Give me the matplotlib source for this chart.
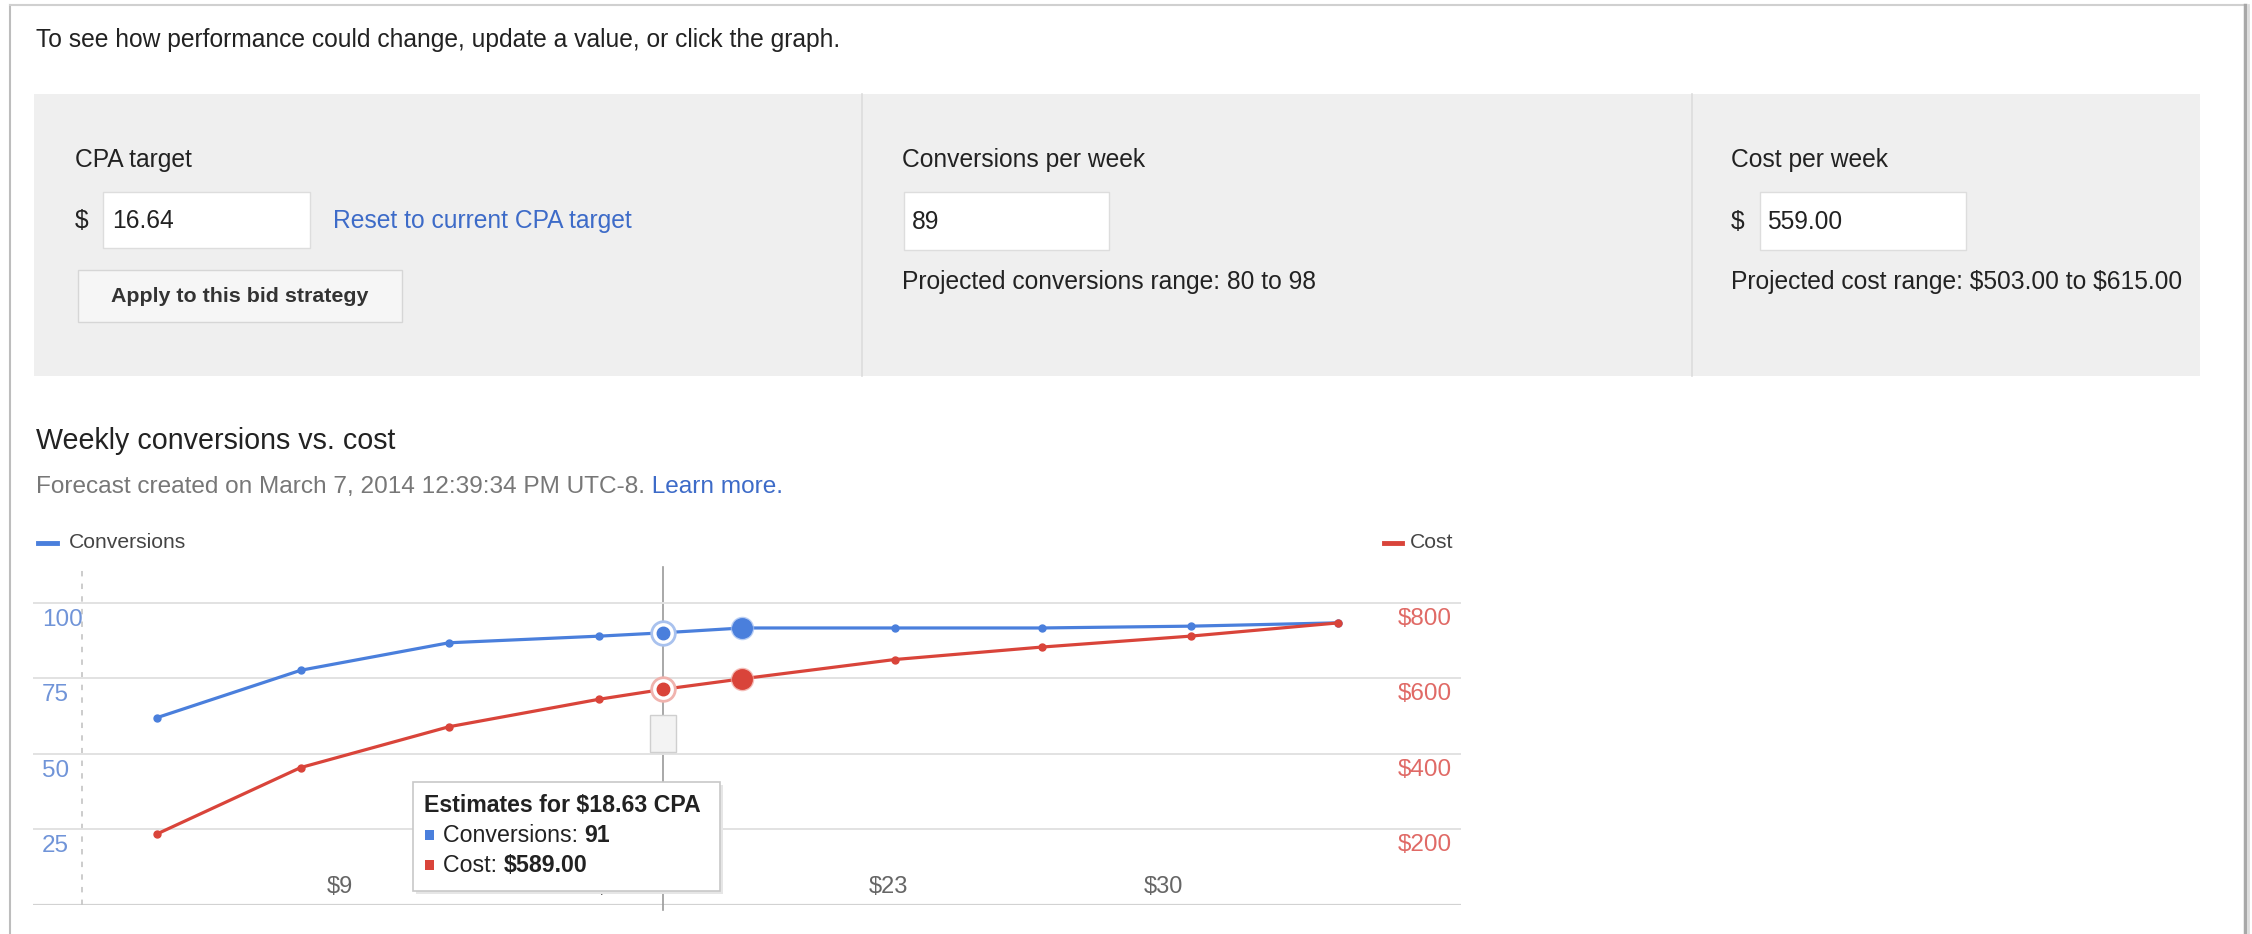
import matplotlib
matplotlib.use('Agg')
import matplotlib.pyplot as plt
from matplotlib.patches import Rectangle
from matplotlib.lines import Line2D
import matplotlib.transforms as mtransforms

# ---------------- data ----------------
cpa = [4.33, 8.0, 11.78, 15.62, 17.24, 19.26, 23.15, 26.9, 30.7, 34.46]
conversions = [62.0, 77.7, 86.8, 89.0, 90.1, 91.7, 91.7, 91.7, 92.3, 93.4]
cost = [188, 364, 472, 545, 571, 599, 650, 683, 712, 747]
hover_idx = 4
current_idx = 5
baseline_cpa = 2.42

x_ticks = [9, 16, 23, 30]
x_tick_labels = ['$9', '$16', '$23', '$30']
conv_ticks = [25, 50, 75, 100]
conv_tick_labels = ['25', '50', '75', '100']
cost_ticks = [200, 400, 600, 800]
cost_tick_labels = ['$200', '$400', '$600', '$800']

x_range = (1.17, 37.6)
conv_range = (0, 114.2)
cost_scale = 8

intro_text = 'To see how performance could change, update a value, or click the graph.'
cpa_label, cpa_value, reset_link, apply_btn = 'CPA target', '16.64', 'Reset to current CPA target', 'Apply to this bid strategy'
conv_label, conv_value, conv_range_text = 'Conversions per week', '89', 'Projected conversions range: 80 to 98'
cost_label, cost_value, cost_range_text = 'Cost per week', '559.00', 'Projected cost range: $503.00 to $615.00'
chart_title = 'Weekly conversions vs. cost'
forecast_text = 'Forecast created on March 7, 2014 12:39:34 PM UTC-8.'
learn_more = ' Learn more.'
tooltip_title = 'Estimates for $18.63 CPA'
tooltip_conv = ('Conversions: ', '91')
tooltip_cost = ('Cost: ', '$589.00')

# ---------------- style ----------------
W, H, DPI = 2252, 934, 100
FONT = ['Liberation Sans', 'DejaVu Sans']
plt.rcParams['font.family'] = FONT
plt.rcParams['text.parse_math'] = False
BLUE = '#4a7fdc'
RED = '#d9443a'
TXT = '#222222'
LINK = '#3d6bc8'
PANEL = '#efefef'
FS = 17.7        # body text
FS_AX = 17.5     # axis labels

fig = plt.figure(figsize=(W / DPI, H / DPI), dpi=DPI)
fig.patch.set_facecolor('white')


def fx(x):
    return x / W


def fy(y):
    return 1 - y / H


def rect(x0, y0, x1, y1, fc, ec='none', lw=1.0, z=1):
    r = Rectangle((fx(x0), fy(y1)), (x1 - x0) / W, (y1 - y0) / H, transform=fig.transFigure,
                  facecolor=fc, edgecolor=ec, linewidth=lw, zorder=z)
    fig.add_artist(r)
    return r


def hline(x0, x1, y, color, lw, z=2):
    fig.add_artist(Line2D([fx(x0), fx(x1)], [fy(y), fy(y)], transform=fig.transFigure, color=color, lw=lw, zorder=z))


def vline(x, y0, y1, color, lw, z=2, ls='-'):
    fig.add_artist(Line2D([fx(x), fx(x)], [fy(y0), fy(y1)], transform=fig.transFigure, color=color, lw=lw, zorder=z, ls=ls))


def txt(x, y, s, size=FS, color=TXT, weight='normal', ha='left', z=5):
    return fig.text(fx(x), fy(y), s, fontsize=size, color=color, fontweight=weight, ha=ha, va='center', zorder=z)


renderer = fig.canvas.get_renderer()


def txt_after(t, s, size=FS, color=TXT, weight='normal', z=5):
    bb = t.get_window_extent(renderer=renderer)
    x = bb.x1
    y = t.get_position()[1]
    return fig.text(x / W, y, s, fontsize=size, color=color, fontweight=weight, ha='left', va='center', zorder=z)


# ---------------- frame ----------------
vline(10, 5, 934, '#bdbdbd', 1.5)
hline(10, 2245, 5, '#d0d0d0', 1.5)
vline(2245, 5, 934, '#a8a8a8', 2.5)
vline(2248, 5, 934, '#dddddd', 2.0)

txt(36, 40, intro_text)

# ---------------- control panel ----------------
rect(34, 94, 2200, 376, PANEL, z=1)
vline(862, 94, 376, '#dcdcdc', 1.2)
vline(1692, 94, 376, '#dcdcdc', 1.2)

# panel 1
txt(75, 160, cpa_label)
txt(75, 221, '$')
rect(103, 192, 310, 248, 'white', '#dddddd', 1.0, z=2)
txt(112, 221, cpa_value)
txt(333, 221, reset_link, color=LINK)
rect(78, 270, 402, 322, '#f6f6f6', '#d6d6d6', 1.0, z=2)
txt(240, 296, apply_btn, size=15.4, weight='bold', ha='center', color='#333333')

# panel 2
txt(902, 160, conv_label)
rect(904, 192, 1109, 250, 'white', '#dddddd', 1.0, z=2)
txt(912, 222, conv_value)
txt(902, 282, conv_range_text)

# panel 3
txt(1731, 160, cost_label)
txt(1731, 222, '$')
rect(1760, 192, 1966, 250, 'white', '#dddddd', 1.0, z=2)
txt(1767, 222, cost_value)
txt(1731, 282, cost_range_text)

# ---------------- chart header ----------------
txt(36, 441, chart_title, size=20.6, color='#222222')
t = txt(36, 487, forecast_text, size=17.6, color='#777777')
txt_after(t, learn_more, size=17.6, color=LINK)

# legend
hline(38, 57, 543, BLUE, 3.5)
txt(69, 543, 'Conversions', size=15.2, color='#444444')
hline(1384, 1402, 543, RED, 3.5)
txt(1410, 543, 'Cost', size=15.2, color='#444444')

# ---------------- chart ----------------
ax_l, ax_r, ax_t, ax_b = 33, 1461, 560, 905
ax = fig.add_axes([fx(ax_l), fy(ax_b), (ax_r - ax_l) / W, (ax_b - ax_t) / H])
ax.set_facecolor('none')
ax.set_xlim(*x_range)
ax.set_ylim(*conv_range)
for s in ax.spines.values():
    s.set_visible(False)
ax.set_yticks(conv_ticks)
ax.set_xticks([])
ax.tick_params(length=0, labelleft=False, labelbottom=False)
ax.grid(axis='y', color='#e2e2e2', lw=1.4, zorder=0)
ax.axhline(0, color='#d2d2d2', lw=1.6, zorder=1)
ax.axvline(baseline_cpa, ymin=0, ymax=(ax_b - 567) / (ax_b - ax_t), color='#c8c8c8', lw=1.3,
           ls=(0, (3, 4)), zorder=1)

# crosshair at hovered point
ax.axvline(cpa[hover_idx], ymin=-0.015, ymax=(ax_b - 567) / (ax_b - ax_t), color='#9a9a9a', lw=1.2,
           zorder=1, clip_on=False)
hw = 0.33
ax.add_patch(Rectangle((cpa[hover_idx] - hw, 50.7), 2 * hw, 12.2, facecolor='#f3f3f3',
                       edgecolor='#cfcfcf', lw=1.0, zorder=2))

left_trans = mtransforms.offset_copy(ax.get_yaxis_transform(which='grid'), fig=fig, y=-17, units='dots')
for v, lab in zip(conv_ticks, conv_tick_labels):
    ax.text(0.0063, v, lab, transform=left_trans, fontsize=FS_AX, color='#7094d8', ha='left', va='center')

for v, lab in zip(x_ticks, x_tick_labels):
    ax.text(v, 6.0, lab, fontsize=17, color='#666666', ha='center', va='center', zorder=2)

ax.plot(cpa, conversions, color=BLUE, lw=2.3, marker='o', ms=5, zorder=4)
ax.plot(cpa[hover_idx], conversions[hover_idx], 'o', ms=17, mfc='white', mec='#a9c2ee', mew=2.0, zorder=5)
ax.plot(cpa[hover_idx], conversions[hover_idx], 'o', ms=9, color=BLUE, zorder=6)
ax.plot(cpa[current_idx], conversions[current_idx], 'o', ms=16, color='#9fbcf0', alpha=0.6, zorder=5)
ax.plot(cpa[current_idx], conversions[current_idx], 'o', ms=14, color=BLUE, zorder=6)

ax2 = ax.twinx()
ax2.set_facecolor('none')
ax2.set_ylim(conv_range[0] * cost_scale, conv_range[1] * cost_scale)
for s in ax2.spines.values():
    s.set_visible(False)
ax2.set_yticks([])
ax2.tick_params(length=0, labelright=False)
right_trans = mtransforms.offset_copy(ax2.get_yaxis_transform(which='grid'), fig=fig, y=-16, units='dots')
for v, lab in zip(cost_ticks, cost_tick_labels):
    ax2.text(0.9559, v, lab, transform=right_trans, fontsize=FS_AX, color='#e06a66', ha='left', va='center')

ax2.plot(cpa, cost, color=RED, lw=2.3, marker='o', ms=5, zorder=4)
ax2.plot(cpa[hover_idx], cost[hover_idx], 'o', ms=17, mfc='white', mec='#f0b3ae', mew=2.0, zorder=5)
ax2.plot(cpa[hover_idx], cost[hover_idx], 'o', ms=9, color=RED, zorder=6)
ax2.plot(cpa[current_idx], cost[current_idx], 'o', ms=16, color='#f0a39c', alpha=0.6, zorder=5)
ax2.plot(cpa[current_idx], cost[current_idx], 'o', ms=14, color=RED, zorder=6)

# ---------------- tooltip ----------------
rect(416, 785, 723, 894, '#e6e6e6', z=20)
rect(413, 782, 720, 891, 'white', '#c8c8c8', 1.2, z=21)
txt(424, 806, tooltip_title, size=16.7, weight='bold', z=22)
rect(425, 830, 434, 840, BLUE, z=22)
t1 = txt(443, 835, tooltip_conv[0], size=16.7, z=22)
txt_after(t1, tooltip_conv[1], size=16.7, weight='bold', z=22)
rect(425, 860, 434, 870, RED, z=22)
t2 = txt(443, 865, tooltip_cost[0], size=16.7, z=22)
txt_after(t2, tooltip_cost[1], size=16.7, weight='bold', z=22)

fig.savefig('out.png', dpi=DPI, facecolor='white')
